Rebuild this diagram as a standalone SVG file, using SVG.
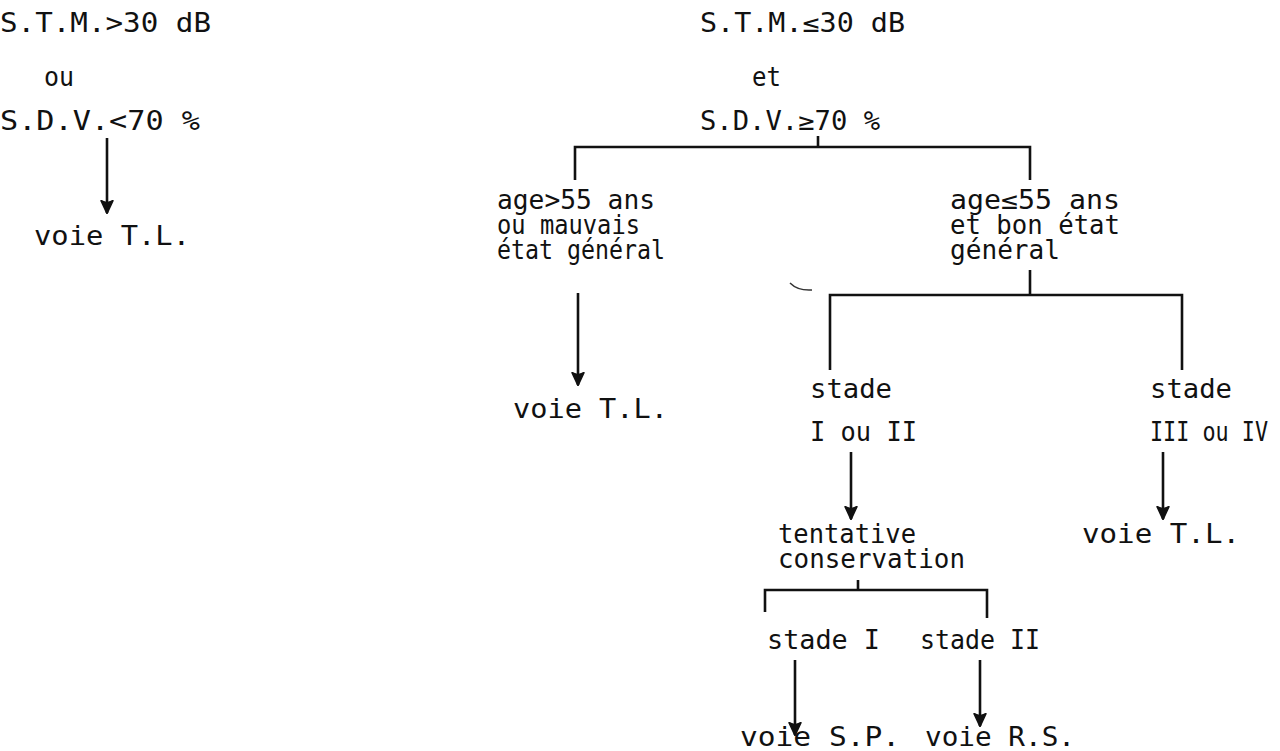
<svg xmlns="http://www.w3.org/2000/svg" width="1280" height="751" viewBox="0 0 1280 751">
<style>
text{font-family:"DejaVu Sans Mono","Liberation Mono",monospace;font-size:26px;fill:#111;}
.ln{stroke:#111;stroke-width:2.6;fill:none;}
.arr{stroke:#111;stroke-width:2.6;fill:none;marker-end:url(#ah);}
</style>
<defs>
<marker id="ah" viewBox="0 0 14 14" refX="13" refY="7" markerWidth="14" markerHeight="14" markerUnits="userSpaceOnUse" orient="auto">
<path d="M0,1 L14,7 L0,13 L2,7 Z" fill="#111"/>
<path d="M0,1 L13,7 L0,13" stroke="#111" stroke-width="2" fill="none"/>
</marker>
</defs>
<rect width="1280" height="751" fill="#fff"/>
<g id="connectors">
<line class="arr" x1="107" y1="138" x2="107" y2="213"/>
<polyline class="ln" points="575,180 575,147 1030,147 1030,180"/>
<line class="ln" x1="818" y1="136" x2="818" y2="147"/>
<line class="arr" x1="578" y1="293" x2="578" y2="385"/>
<polyline class="ln" points="830,370 830,295 1182,295 1182,370"/>
<line class="ln" x1="1030" y1="270" x2="1030" y2="295"/>
<line class="arr" x1="851" y1="452" x2="851" y2="519"/>
<line class="arr" x1="1163" y1="452" x2="1163" y2="519"/>
<polyline class="ln" points="765,612 765,590 987,590 987,618"/>
<line class="ln" x1="858" y1="580" x2="858" y2="590"/>
<line class="arr" x1="795" y1="660" x2="795" y2="735"/>
<line class="arr" x1="980" y1="660" x2="980" y2="726"/>
<path d="M790,283 Q798,291 812,290" stroke="#333" stroke-width="1.5" fill="none"/>
</g>
<g id="n1"><text><tspan x="0" y="32" textLength="211" lengthAdjust="spacingAndGlyphs">S.T.M.&gt;30 dB</tspan><tspan x="44" y="86" textLength="30" lengthAdjust="spacingAndGlyphs">ou</tspan><tspan x="0" y="130" textLength="200" lengthAdjust="spacingAndGlyphs">S.D.V.&lt;70 %</tspan></text></g>
<g id="n2"><text x="34" y="245" textLength="156" lengthAdjust="spacingAndGlyphs">voie T.L.</text></g>
<g id="n3"><text><tspan x="700" y="32" textLength="205" lengthAdjust="spacingAndGlyphs">S.T.M.≤30 dB</tspan><tspan x="752" y="86" textLength="29" lengthAdjust="spacingAndGlyphs">et</tspan><tspan x="700" y="130" textLength="180" lengthAdjust="spacingAndGlyphs">S.D.V.≥70 %</tspan></text></g>
<g id="n4"><text><tspan x="497" y="209" textLength="158" lengthAdjust="spacingAndGlyphs">age&gt;55 ans</tspan><tspan x="497" y="234" textLength="143" lengthAdjust="spacingAndGlyphs">ou mauvais</tspan><tspan x="497" y="259" textLength="168" lengthAdjust="spacingAndGlyphs">état général</tspan></text></g>
<g id="n5"><text x="513" y="418" textLength="155" lengthAdjust="spacingAndGlyphs">voie T.L.</text></g>
<g id="n6"><text><tspan x="950" y="209" textLength="170" lengthAdjust="spacingAndGlyphs">age≤55 ans</tspan><tspan x="950" y="234" textLength="170" lengthAdjust="spacingAndGlyphs">et bon état</tspan><tspan x="950" y="259" textLength="110" lengthAdjust="spacingAndGlyphs">général</tspan></text></g>
<g id="n7"><text><tspan x="810" y="398" textLength="82" lengthAdjust="spacingAndGlyphs">stade</tspan><tspan x="810" y="441" textLength="107" lengthAdjust="spacingAndGlyphs">I ou II</tspan></text></g>
<g id="n8"><text><tspan x="1150" y="398" textLength="82" lengthAdjust="spacingAndGlyphs">stade</tspan><tspan x="1150" y="441" textLength="118" lengthAdjust="spacingAndGlyphs">III ou IV</tspan></text></g>
<g id="n9"><text><tspan x="778" y="543" textLength="138" lengthAdjust="spacingAndGlyphs">tentative</tspan><tspan x="778" y="568" textLength="187" lengthAdjust="spacingAndGlyphs">conservation</tspan></text></g>
<g id="n10"><text x="1082" y="543" textLength="158" lengthAdjust="spacingAndGlyphs">voie T.L.</text></g>
<g id="n11"><text x="767" y="649" textLength="113" lengthAdjust="spacingAndGlyphs">stade I</text></g>
<g id="n12"><text x="920" y="649" textLength="120" lengthAdjust="spacingAndGlyphs">stade II</text></g>
<g id="n13"><text x="740" y="746" textLength="160" lengthAdjust="spacingAndGlyphs">voie S.P.</text></g>
<g id="n14"><text x="925" y="746" textLength="150" lengthAdjust="spacingAndGlyphs">voie R.S.</text></g>
</svg>
